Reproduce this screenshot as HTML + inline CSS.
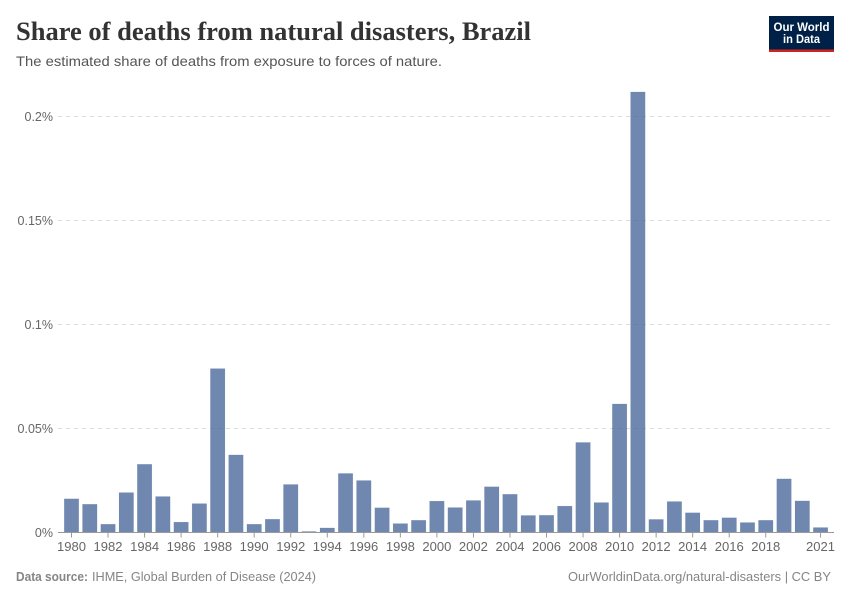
<!DOCTYPE html>
<html lang="en">
<head>
<meta charset="utf-8">
<title>Share of deaths from natural disasters, Brazil</title>
<style>
html,body{margin:0;padding:0;background:#fff;}
svg{display:block;font-family:"Liberation Sans",sans-serif;}
</style>
</head>
<body>
<svg id="chart" width="850" height="600" viewBox="0 0 850 600" xmlns="http://www.w3.org/2000/svg">
  <rect width="850" height="600" fill="#fff"/>
  <text x="16" y="40" font-family="'Liberation Serif',serif" font-weight="700" font-size="26" fill="#333" textLength="515" lengthAdjust="spacingAndGlyphs">Share of deaths from natural disasters, Brazil</text>
  <text x="16" y="66" font-size="14" fill="#555" textLength="426" lengthAdjust="spacingAndGlyphs">The estimated share of deaths from exposure to forces of nature.</text>
  <g>
    <rect x="769" y="16" width="65" height="34" fill="#002147"/>
    <rect x="769" y="49.500" width="65" height="2.500" fill="#ce261e"/>
    <text x="801.500" y="31" text-anchor="middle" font-size="11.500" font-weight="700" fill="#fff" textLength="56" lengthAdjust="spacingAndGlyphs">Our World</text>
    <text x="801.500" y="43" text-anchor="middle" font-size="11.500" font-weight="700" fill="#fff" textLength="37" lengthAdjust="spacingAndGlyphs">in Data</text>
  </g>
  <g id="grid"></g>
  <g id="y-labels"></g>
  <g id="bars"></g>
  <line id="x-axis-line" stroke="#999" stroke-width="1"/>
  <g id="x-axis"></g>
  <text x="16" y="581" font-size="12.500" font-weight="700" fill="#858585" textLength="72" lengthAdjust="spacingAndGlyphs">Data source:</text>
  <text x="92" y="581" font-size="12.500" fill="#858585" textLength="224" lengthAdjust="spacingAndGlyphs">IHME, Global Burden of Disease (2024)</text>
  <text x="568" y="581" font-size="12.500" fill="#858585" textLength="263" lengthAdjust="spacingAndGlyphs">OurWorldinData.org/natural-disasters | CC BY</text>
</svg>
<script>
const years = [1980,1981,1982,1983,1984,1985,1986,1987,1988,1989,1990,1991,1992,1993,1994,1995,1996,1997,1998,1999,2000,2001,2002,2003,2004,2005,2006,2007,2008,2009,2010,2011,2012,2013,2014,2015,2016,2017,2018,2019,2020,2021];
const shareValues = [0.0162,0.0136,0.0040,0.0192,0.0328,0.0173,0.0050,0.0139,0.0788,0.0373,0.0040,0.0064,0.0231,0.0005,0.0022,0.0284,0.0250,0.0119,0.0043,0.0059,0.0151,0.0120,0.0154,0.0220,0.0184,0.0082,0.0083,0.0127,0.0433,0.0144,0.0618,0.2118,0.0063,0.0149,0.0095,0.0059,0.0071,0.0048,0.0059,0.0258,0.0152,0.0024];
const xTickYears = [1980,1982,1984,1986,1988,1990,1992,1994,1996,1998,2000,2002,2004,2006,2008,2010,2012,2014,2016,2018,2021];
const yTickValues = [0,0.05,0.1,0.15,0.2];
const yTickLabels = ['0%','0.05%','0.1%','0.15%','0.2%'];

const SVG_NS = 'http://www.w3.org/2000/svg';
const plot = {bandLeft:62.37, bandRight:829.7, axisRight:834, baseline:532.5, top:116.5, gridLeft:58, gridRight:831};
const step = (plot.bandRight - plot.bandLeft) / years.length;
const barWidth = step * 0.8;

function yScale(v) {
  return plot.baseline - (v / yTickValues[yTickValues.length - 1]) * (plot.baseline - plot.top);
}
function xCenter(year) {
  return plot.bandLeft + (year - years[0] + 0.5) * step;
}
function make(tag, attrs, parent) {
  const el = document.createElementNS(SVG_NS, tag);
  for (const k in attrs) el.setAttribute(k, attrs[k]);
  parent.appendChild(el);
  return el;
}

const grid = document.getElementById('grid');
const yLabels = document.getElementById('y-labels');
yTickValues.forEach(function (v, i) {
  if (v !== 0) {
    const line = make('line', {x1:plot.gridLeft, x2:plot.gridRight, y1:yScale(v), y2:yScale(v), stroke:'#dddddd', 'stroke-width':1, 'stroke-dasharray':'4,4'}, grid);
    
    
  }
  const label = make('text', {x:53, y:yScale(v) + 4.5, 'text-anchor':'end', 'font-size':12.5, fill:'#666'}, yLabels);
  
  
  label.textContent = yTickLabels[i];
});

const barsGroup = document.getElementById('bars');
years.forEach(function (year, i) {
  const y = yScale(shareValues[i]);
  const bar = make('rect', {x:xCenter(year) - barWidth / 2, y:y, width:barWidth, height:plot.baseline - y, fill:'#4c6a9c', 'fill-opacity':0.8, stroke:'#4c6a9c', 'stroke-opacity':0.15, 'stroke-width':0.5}, barsGroup);
  
  
});

const axisLine = document.getElementById('x-axis-line');
axisLine.setAttribute('x1', plot.gridLeft);
axisLine.setAttribute('x2', plot.axisRight);
axisLine.setAttribute('y1', plot.baseline);
axisLine.setAttribute('y2', plot.baseline);

const xAxis = document.getElementById('x-axis');
xTickYears.forEach(function (year) {
  const cx = xCenter(year);
  const tick = make('line', {x1:cx, x2:cx, y1:plot.baseline, y2:plot.baseline + 5, stroke:'#999', 'stroke-width':1}, xAxis);
  
  
  const label = make('text', {x:cx, y:551, 'text-anchor':'middle', 'font-size':12.5, fill:'#666', textLength:29, lengthAdjust:'spacingAndGlyphs'}, xAxis);
  
  
  label.textContent = String(year);
});
</script>
</body>
</html>
